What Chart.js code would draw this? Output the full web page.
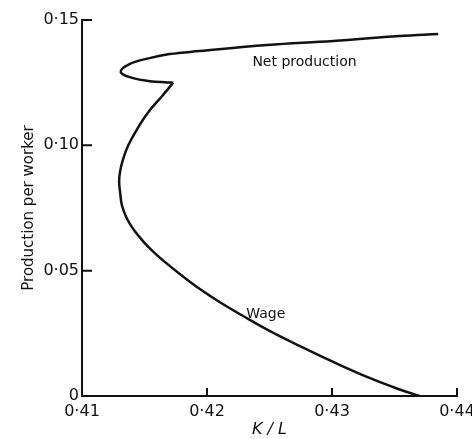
<!DOCTYPE html>
<html>
<head>
<meta charset="utf-8">
<script src="https://cdn.jsdelivr.net/npm/chart.js@4.4.1/dist/chart.umd.min.js"></script>
<style>
  html, body { margin: 0; padding: 0; background: #fff; }
</style>
</head>
<body>
<canvas id="chart" width="472" height="439"></canvas>
<script>
// wage curve: from the x axis up to the cusp
const wageK = [0.4370, 0.4353, 0.4330, 0.4301, 0.4274, 0.4250, 0.4230, 0.4211, 0.4194, 0.4179, 0.4166, 0.4158, 0.4150, 0.4142, 0.4136, 0.41320, 0.41305, 0.41297, 0.41305, 0.41328, 0.4137, 0.4144, 0.4153, 0.4164, 0.4173];
const wageY = [0, 0.0028, 0.0072, 0.0136, 0.0200, 0.0260, 0.0316, 0.0372, 0.0428, 0.0484, 0.0536, 0.0571, 0.0611, 0.0659, 0.0707, 0.0760, 0.0812, 0.0856, 0.0896, 0.0944, 0.1000, 0.1064, 0.1132, 0.1196, 0.1250];

// net production: from the cusp round the loop and off to the right
const netK = [0.4173, 0.4168, 0.4154, 0.4141, 0.4131, 0.4138, 0.4154, 0.4170, 0.4194, 0.4248, 0.4301, 0.4354, 0.4385];
const netY = [0.1250, 0.1251, 0.1256, 0.1268, 0.1292, 0.1324, 0.1348, 0.1364, 0.1376, 0.1400, 0.1416, 0.1436, 0.1444];

const xTicks = [0.41, 0.42, 0.43, 0.44];
const xTickLabels = ['0·41', '0·42', '0·43', '0·44'];
const yTicks = [0, 0.05, 0.10, 0.15];
const yTickLabels = ['0', '0·05', '0·10', '0·15'];

const curveLabels = ['Net production', 'Wage'];
const labelK = [0.4278, 0.4247];
const labelY = [0.1332, 0.0324];

const ink = '#111';
const toPoints = (ks, ys) => ks.map((k, i) => ({ x: k, y: ys[i] }));

// ticks point inwards, plus the curve names
const extras = {
  id: 'extras',
  afterDraw(chart) {
    const { ctx, chartArea: a, scales: { x, y } } = chart;
    ctx.save();
    ctx.strokeStyle = ink;
    ctx.lineWidth = 2;
    ctx.beginPath();
    xTicks.slice(1).forEach(v => {
      const px = x.getPixelForValue(v);
      ctx.moveTo(px, a.bottom);
      ctx.lineTo(px, a.bottom - 8);
    });
    yTicks.slice(1).forEach(v => {
      const py = y.getPixelForValue(v);
      ctx.moveTo(a.left, py);
      ctx.lineTo(a.left + 10, py);
    });
    ctx.stroke();

    ctx.fillStyle = ink;
    ctx.font = '14px "DejaVu Sans"';
    ctx.textAlign = 'center';
    ctx.textBaseline = 'middle';
    curveLabels.forEach((t, i) => {
      ctx.fillText(t, x.getPixelForValue(labelK[i]), y.getPixelForValue(labelY[i]));
    });
    ctx.restore();
  }
};

new Chart(document.getElementById('chart'), {
  type: 'scatter',
  data: {
    datasets: [
      { label: 'Wage', data: toPoints(wageK, wageY) },
      { label: 'Net production', data: toPoints(netK, netY) }
    ]
  },
  options: {
    responsive: false,
    animation: false,
    showLine: true,
    layout: { padding: { top: 20, right: 15, left: 0, bottom: 0 } },
    elements: {
      point: { radius: 0, hoverRadius: 0 },
      line: { borderColor: ink, borderWidth: 2.5, tension: 0.4, fill: false }
    },
    scales: {
      x: {
        type: 'linear',
        min: 0.41,
        max: 0.44,
        afterBuildTicks: s => { s.ticks = xTicks.map(v => ({ value: v })); },
        afterFit: s => { s.height = 43; s.paddingRight = 15; s.paddingLeft = 0; },
        ticks: {
          callback: (v, i) => xTickLabels[i],
          color: ink,
          padding: 6,
          font: { family: 'DejaVu Sans', size: 16 }
        },
        grid: { drawOnChartArea: false, drawTicks: false },
        border: { display: true, color: ink, width: 2 },
        title: {
          display: true,
          text: 'K / L',
          color: ink,
          padding: 0,
          font: { family: 'DejaVu Sans', size: 16, style: 'italic' }
        }
      },
      y: {
        type: 'linear',
        min: 0,
        max: 0.15,
        afterBuildTicks: s => { s.ticks = yTicks.map(v => ({ value: v })); },
        afterFit: s => { s.width = 82; },
        ticks: {
          callback: (v, i) => yTickLabels[i],
          color: ink,
          padding: 3,
          font: { family: 'DejaVu Sans', size: 16 }
        },
        grid: { drawOnChartArea: false, drawTicks: false },
        border: { display: true, color: ink, width: 2 },
        title: {
          display: true,
          text: 'Production per worker',
          color: ink,
          padding: { top: 20, bottom: 0 },
          font: { family: 'DejaVu Sans', size: 15 }
        }
      }
    },
    plugins: {
      legend: { display: false },
      tooltip: { enabled: false }
    }
  },
  plugins: [extras]
});
</script>
</body>
</html>
